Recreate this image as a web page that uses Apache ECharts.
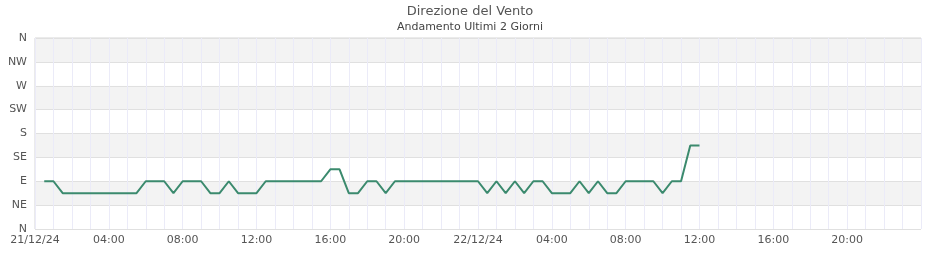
<!DOCTYPE html>
<html>
<head>
<meta charset="utf-8">
<script src="https://cdn.jsdelivr.net/npm/echarts@6/dist/echarts.min.js"></script>
<style>html,body{margin:0;padding:0;background:#fff;}#c{width:940px;height:260px;}</style>
</head>
<body>
<div id="c"></div>
<script>
// Hours since 21/12/24 00:00 (half-hourly readings)
const hours = [0.5,1,1.5,2,2.5,3,3.5,4,4.5,5,5.5,6,6.5,7,7.5,8,8.5,9,9.5,10,10.5,11,11.5,12,12.5,13,13.5,14,14.5,15,15.5,16,16.5,17,17.5,18,18.5,19,19.5,20,20.5,21,21.5,22,22.5,23,23.5,24,24.5,25,25.5,26,26.5,27,27.5,28,28.5,29,29.5,30,30.5,31,31.5,32,32.5,33,33.5,34,34.5,35,35.5,36];
// Wind direction in degrees
const direction = [90,90,67.5,67.5,67.5,67.5,67.5,67.5,67.5,67.5,67.5,90,90,90,67.5,90,90,90,67.5,67.5,90,67.5,67.5,67.5,90,90,90,90,90,90,90,112.5,112.5,67.5,67.5,90,90,67.5,90,90,90,90,90,90,90,90,90,90,67.5,90,67.5,90,67.5,90,90,67.5,67.5,67.5,90,67.5,90,67.5,67.5,90,90,90,90,67.5,90,90,157.5,157.5];
const yTickLabels = ['N','NE','E','SE','S','SW','W','NW','N'];
const xTickLabels = ['21/12/24','04:00','08:00','12:00','16:00','20:00','22/12/24','04:00','08:00','12:00','16:00','20:00','23/12/24'];

const chart = echarts.init(document.getElementById('c'));
const font = 'DejaVu Sans';
chart.setOption({
  animation: false,
  textStyle: {fontFamily: font},
  title: {
    text: 'Direzione del Vento',
    subtext: 'Andamento Ultimi 2 Giorni',
    left: 'center', top: 0, itemGap: 4,
    textStyle: {fontFamily: font, fontSize: 13, fontWeight: 'normal', color: '#555'},
    subtextStyle: {fontFamily: font, fontSize: 11, color: '#444'}
  },
  grid: {left: 35, right: 19, top: 38, bottom: 31, show: true, borderColor: '#d6d6d6', borderWidth: 1, backgroundColor: 'transparent'},
  xAxis: {
    type: 'value', min: 0, max: 48, interval: 1,
    axisLine: {show: false}, axisTick: {show: false},
    axisLabel: {
      color: '#555', fontSize: 11, fontFamily: font, margin: 6, showMaxLabel: false,
      formatter: v => (v % 4 === 0 ? xTickLabels[v / 4] : '')
    },
    splitLine: {show: true, lineStyle: {color: '#ebebf8', width: 1}}
  },
  yAxis: {
    type: 'value', min: 0, max: 360, interval: 45,
    axisLine: {show: false}, axisTick: {show: false},
    axisLabel: {color: '#555', fontSize: 11, fontFamily: font, margin: 8,
      formatter: v => yTickLabels[Math.round(v / 45)]},
    splitLine: {show: true, lineStyle: {color: '#e0e0e0', width: 1}},
    splitArea: {show: true, areaStyle: {color: ['#ffffff', '#f3f3f3']}}
  },
  series: [{
    type: 'line',
    data: hours.map((h, i) => [h, direction[i]]),
    showSymbol: false, symbol: 'none',
    lineStyle: {color: '#3b8a6e', width: 2},
    itemStyle: {color: '#3b8a6e'},
    z: 5
  }]
});
</script>
</body>
</html>
